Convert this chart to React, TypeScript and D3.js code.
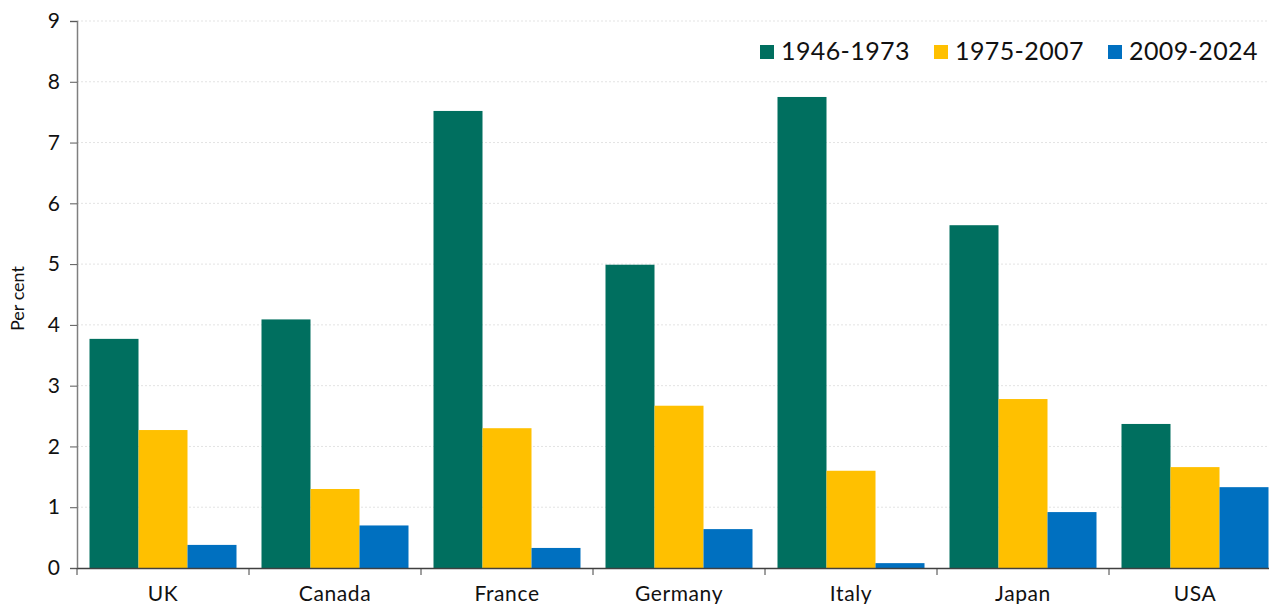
import React, { useEffect, useRef } from 'react';
import * as d3 from 'd3';

const countries = ['UK', 'Canada', 'France', 'Germany', 'Italy', 'Japan', 'USA'];
const periods = ['1946-1973', '1975-2007', '2009-2024'];
const growth1946 = [3.77, 4.09, 7.52, 4.99, 7.75, 5.64, 2.37];
const growth1975 = [2.27, 1.30, 2.30, 2.67, 1.60, 2.78, 1.66];
const growth2009 = [0.38, 0.70, 0.33, 0.64, 0.08, 0.92, 1.33];
const yTicks = [0, 1, 2, 3, 4, 5, 6, 7, 8, 9];
const colors = ['#006f5f', '#ffc000', '#0070c0'];

const W = 1269;
const H = 604;
const FONT = 'Lato, "Open Sans", sans-serif';

export default function App() {
  const ref = useRef<SVGSVGElement>(null);

  useEffect(() => {
    const svg = d3.select(ref.current);
    svg.selectAll('*').remove();

    const series = [growth1946, growth1975, growth2009];
    const left = 77, top = 21, bottom = 568, bandEnd = 1281;

    const x = d3.scaleBand().domain(countries).range([left, bandEnd]).paddingInner(0).paddingOuter(0);
    const inner = d3.scaleBand().domain(periods).range([12.5, x.bandwidth() - 12.5]).padding(0);
    const y = d3.scaleLinear().domain([0, 9]).range([bottom, top]);

    // gridlines
    svg.append('g')
      .selectAll('line')
      .data(yTicks.filter(t => t > 0))
      .join('line')
      .attr('x1', left)
      .attr('x2', W)
      .attr('y1', d => y(d))
      .attr('y2', d => y(d))
      .attr('stroke', '#e3e3e3')
      .attr('stroke-dasharray', '2,2')
      .attr('stroke-width', 1);

    // bars
    const groups = svg.append('g')
      .selectAll('g')
      .data(countries)
      .join('g')
      .attr('transform', d => `translate(${x(d)},0)`);

    groups.selectAll('rect')
      .data(c => periods.map((p, j) => ({ p, v: series[j][countries.indexOf(c)], j })))
      .join('rect')
      .attr('x', d => inner(d.p)!)
      .attr('width', inner.bandwidth())
      .attr('y', d => y(d.v))
      .attr('height', d => y(0) - y(d.v))
      .attr('fill', d => colors[d.j]);

    // y axis
    const yAxis = svg.append('g')
      .attr('transform', `translate(${left},0)`)
      .call(d3.axisLeft(y).tickValues(yTicks).tickSize(7).tickPadding(10));
    yAxis.select('.domain').attr('stroke', '#7f7f7f').attr('stroke-width', 1.5);
    yAxis.selectAll('.tick line').attr('stroke', '#595959');
    yAxis.selectAll('text')
      .attr('font-family', FONT)
      .attr('font-size', 21)
      .attr('fill', '#111');

    // x axis
    const xAxis = svg.append('g')
      .attr('transform', `translate(0,${bottom})`)
      .call(d3.axisBottom(x).tickSize(0).tickPadding(18));
    xAxis.select('.domain').attr('stroke', '#404040').attr('stroke-width', 1.5);
    xAxis.selectAll('text')
      .attr('font-family', FONT)
      .attr('font-size', 21)
      .attr('letter-spacing', 0.6)
      .attr('fill', '#111');

    // separator ticks between categories
    svg.append('g')
      .selectAll('line')
      .data(d3.range(countries.length))
      .join('line')
      .attr('x1', i => left + i * x.bandwidth())
      .attr('x2', i => left + i * x.bandwidth())
      .attr('y1', bottom)
      .attr('y2', bottom + 7)
      .attr('stroke', '#404040')
      .attr('stroke-width', 1);

    // y label
    svg.append('text')
      .attr('transform', `translate(24,${(top + bottom) / 2 + 4}) rotate(-90)`)
      .attr('text-anchor', 'middle')
      .attr('font-family', FONT)
      .attr('font-size', 18)
      .attr('fill', '#111')
      .text('Per cent');

    // legend
    const legendX = [760, 934, 1108];
    const legend = svg.append('g')
      .selectAll('g')
      .data(periods)
      .join('g')
      .attr('transform', (d, i) => `translate(${legendX[i]},45)`);
    legend.append('rect')
      .attr('width', 14)
      .attr('height', 14)
      .attr('fill', (d, i) => colors[i]);
    legend.append('text')
      .attr('x', 21)
      .attr('y', 14.5)
      .attr('font-family', FONT)
      .attr('font-size', 25)
      .attr('letter-spacing', 0.4)
      .attr('fill', '#111')
      .text(d => d);
  }, []);

  return (
    <svg ref={ref} width={W} height={H} style={{ position: 'absolute', left: 0, top: 0, background: '#fff' }} />
  );
}
